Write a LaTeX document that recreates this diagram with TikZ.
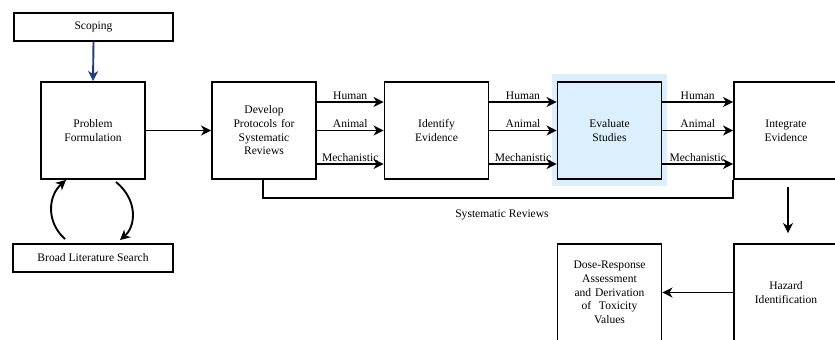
\documentclass[tikz,border=0pt]{standalone}
\usepackage{fontspec}
\setmainfont{Liberation Serif}
\usetikzlibrary{arrows.meta,calc}
\definecolor{navy}{HTML}{1F3C7C}
\definecolor{paleblue}{HTML}{DCEFFC}
\begin{document}
\begin{tikzpicture}[x=1bp,y=-1bp,
  every node/.style={font=\fontsize{11.6}{13.7}\selectfont},
  bigbox/.style={draw,line width=1.9bp,minimum width=104bp,minimum height=97bp,
    align=center,inner sep=0pt,text width=100bp},
  barbox/.style={draw,line width=1.9bp,minimum height=28bp,inner sep=0pt,align=center},
  flow/.style={line width=1.9bp,-{Stealth[length=10bp,width=10bp,inset=3bp]}},
  lbl/.style={above,inner sep=1.5bp}]
\useasboundingbox (0,0) rectangle (835,339);
\clip (0,0) rectangle (835,339);

% highlight behind the study evaluation step
\fill[paleblue] (552,74) rectangle (667,186);

\node[barbox,minimum width=159bp] (scope) at (93.5,27) {Scoping};
\node[bigbox] (problem) at (93,130.5) {Problem\\Formulation};
\node[barbox,minimum width=160bp] (broad) at (93,258) {Broad Literature Search};
\node[bigbox] (develop) at (264,130.5) {Develop\\Protocols for\\Systematic\\Reviews};
\node[bigbox] (identify) at (436.5,130.5) {Identify\\Evidence};
\node[bigbox,fill=paleblue] (evaluate) at (609.5,130.5) {Evaluate\\Studies};
\node[bigbox] (integrate) at (786,130.5) {Integrate\\Evidence};
\node[bigbox] (hazard) at (786,292.5) {Hazard\\Identification};
\node[bigbox] (dose) at (609.5,292.5) {Dose-Response\\Assessment\\and Derivation\\of\ \ Toxicity\\Values};

% scoping feeds the problem formulation
\draw[flow,navy] (scope.south) -- (problem.north);
\draw[flow] (problem.east) -- (develop.west);

% literature search loop
\draw[flow] ($(broad.north)+(-28,-4)$) .. controls (46,222) and (48,196) .. ($(problem.south)+(-27,0)$);
\draw[flow] ($(problem.south)+(23,2)$) .. controls (138,200) and (136,226) .. ($(broad.north)+(27,-3)$);

% evidence streams between the review steps
\foreach \a/\b in {develop/identify,identify/evaluate,evaluate/integrate}{
  \draw[flow] ($(\a.east)+(0,-28.5)$) -- ($(\b.west)+(0,-28.5)$) node[lbl,midway] {Human};
  \draw[flow] ($(\a.east)+(0,0)$) -- ($(\b.west)+(0,0)$) node[lbl,midway] {Animal};
  \draw[flow] ($(\a.east)+(0,33.5)$) -- ($(\b.west)+(0,33.5)$) node[lbl,midway] {Mechanistic};
}

% systematic review bracket
\coordinate (sra) at ($(develop.south)+(-1,18)$);
\draw[line width=1.2bp] ($(develop.south)+(-1,0)$) -- (sra) -| ($(integrate.south west)$);
\node at (502,215) {Systematic Reviews};

\draw[flow] ($(integrate.south)+(2,7)$) -- ($(hazard.north)+(2,-10)$);
\draw[flow] (hazard.west) -- (dose.east);
\end{tikzpicture}
\end{document}
